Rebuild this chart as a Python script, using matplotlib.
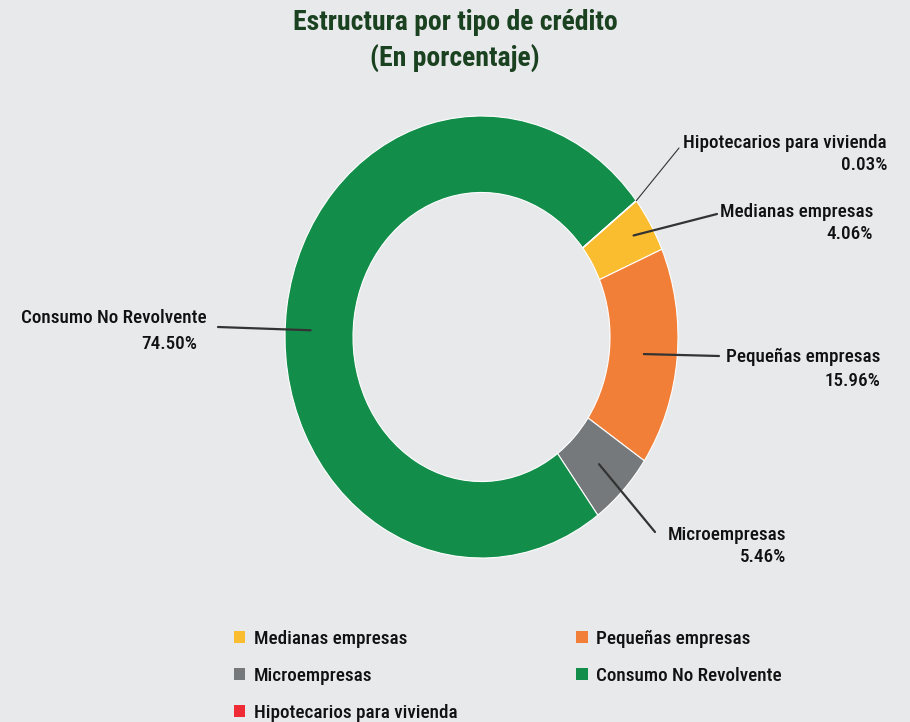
import numpy as np
import matplotlib.pyplot as plt
from matplotlib.patches import Patch

categorias = ['Medianas empresas', 'Pequeñas empresas', 'Microempresas',
              'Consumo No Revolvente', 'Hipotecarios para vivienda']
porcentajes = [4.06, 15.96, 5.46, 74.50, 0.03]
etiquetas = ['4.06%', '15.96%', '5.46%', '74.50%', '0.03%']
colores = ['#fbbd30', '#f27f38', '#76797b', '#138d4a', '#ef2b36']

# label placement (pixels): name right edge, name y, pct right edge, pct y, line end
pos_etiquetas = {
    'Medianas empresas': (873, 212, 873, 234, 717, 214),
    'Pequeñas empresas': (880, 357, 880, 381, 719, 356),
    'Microempresas': (786, 535, 786, 557, 655, 532),
    'Consumo No Revolvente': (207, 318, 197, 344, 218, 327),
    'Hipotecarios para vivienda': (887, 143, 887, 165, 679, 148),
}
radio_linea = {'Hipotecarios para vivienda': 1.0, 'Medianas empresas': 0.9,
               'Consumo No Revolvente': 0.87}
angulo_linea = {'Consumo No Revolvente': 178}

W, H = 910, 722
bg = '#e8e9eb'
fuente = ['Roboto Condensed', 'Liberation Sans Narrow', 'Roboto', 'DejaVu Sans']
plt.rcParams['font.family'] = fuente


def fx(px):
    return px / W


def fy(py):
    return 1 - py / H


fig = plt.figure(figsize=(W / 100, H / 100), dpi=100)
fig.patch.set_facecolor(bg)

ax = fig.add_axes([fx(285), fy(558), fx(678) - fx(285), fy(116) - fy(558)])
ax.set_facecolor(bg)
wedges, _ = ax.pie(porcentajes, colors=colores, startangle=38, counterclock=False,
                   radius=1, wedgeprops=dict(width=0.346, edgecolor='white', linewidth=0.8))
ax.set_aspect('auto')
ax.set_xlim(-1, 1)
ax.set_ylim(-1, 1)
ax.axis('off')

for w, cat, et in zip(wedges, categorias, etiquetas):
    ang = np.deg2rad(angulo_linea.get(cat, (w.theta1 + w.theta2) / 2))
    r = radio_linea.get(cat, 0.83)
    x0, y0 = r * np.cos(ang), r * np.sin(ang)
    nx_, ny_, px_, py_, lx, ly = pos_etiquetas[cat]
    lw = 0.8 if cat.startswith('Hipo') else 1.6
    ax.annotate('', xy=(x0, y0), xycoords='data',
                xytext=(fx(lx), fy(ly)), textcoords='figure fraction',
                arrowprops=dict(arrowstyle='-', color='#333333', lw=lw,
                                shrinkA=0, shrinkB=0))
    fig.text(fx(nx_), fy(ny_), cat, ha='right', va='center', fontsize=13.8,
             fontweight='medium', color='#111111')
    fig.text(fx(px_), fy(py_), et, ha='right', va='center', fontsize=13.8,
             fontweight='medium', color='#111111')

fig.text(0.5, fy(22), 'Estructura por tipo de crédito', ha='center', va='center',
         fontsize=20, fontweight='bold', color='#1b4220')
fig.text(0.5, fy(58), '(En porcentaje)', ha='center', va='center',
         fontsize=20, fontweight='bold', color='#1b4220')

orden = [0, 2, 4, 1, 3]
handles = [Patch(facecolor=colores[i], edgecolor='none', label=categorias[i]) for i in orden]
leg = fig.legend(handles=handles, ncol=2, loc='upper left',
                 bbox_to_anchor=(fx(226), fy(622)), frameon=False,
                 fontsize=13.8, handlelength=0.6, handleheight=0.6,
                 handletextpad=0.45, labelspacing=1.0, columnspacing=6.2,
                 borderaxespad=0)
for t in leg.get_texts():
    t.set_fontweight('medium')
    t.set_color('#111111')

fig.savefig('out.png', dpi=100, facecolor=bg)
